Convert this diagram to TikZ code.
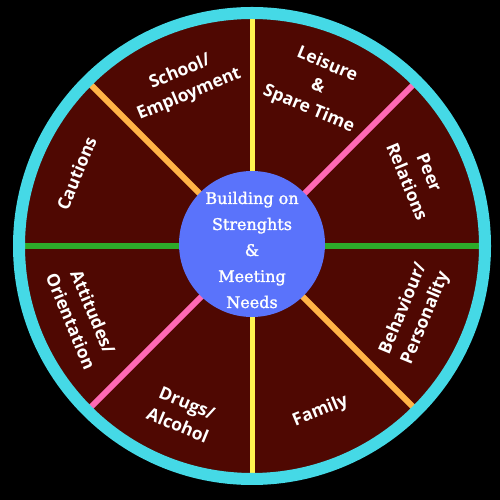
\documentclass[tikz,border=0pt]{standalone}
\usepackage{fontspec}
\setsansfont{Open Sans}
\newfontfamily\hubfont[FakeBold=1.6]{DejaVu Serif}
\usetikzlibrary{calc,positioning}
\definecolor{rim}{HTML}{45D9E6}
\definecolor{wedge}{HTML}{4F0802}
\definecolor{hub}{HTML}{5A73FB}
\definecolor{yellowline}{HTML}{FFF44F}
\definecolor{orangeline}{HTML}{FFB347}
\definecolor{pinkline}{HTML}{FF69B4}
\definecolor{greenline}{HTML}{2DAA2A}

\begin{document}
\begin{tikzpicture}[x=1pt,y=1pt,
  spoke/.style={line width=6pt,#1},
  area/.style={text=white,font=\sffamily\bfseries\fontsize{17.5}{24}\selectfont,align=center,inner sep=0pt},
]
  \fill[black] (0,0) rectangle (500,500);
  \coordinate (c) at (252,254);
  \fill[wedge] (c) circle (233pt);

  % spokes
  \draw[spoke=greenline] (c) ++(180:230) -- ++(0:460);
  \draw[spoke=yellowline,line width=5pt] (c) ++(90:230) -- ++(-90:460);
  \draw[spoke=orangeline] (c) ++(135:230) -- ++(-45:460);
  \draw[spoke=pinkline] (c) ++(45:230) -- ++(-135:460);

  \draw[rim,line width=12pt] (c) circle (233pt);

  \node[circle,fill=hub,minimum size=146pt,inner sep=0pt] (hub) at ($(c)+(0,2)$) {};
  \node[text=white,font=\hubfont\fontsize{16}{26}\selectfont,align=center] (hubtext)
    at ($(hub.center)+(0,-6)$) {Building on\\Strenghts\\\&\\Meeting\\Needs};

  % areas round the wheel
  \node[area,rotate=22.5] (school) at ($(c)+(112.5:176)$) {School/\\Employment};
  \node[area,rotate=-22.5] (leisure) at ($(c)+(67.5:172)$) {Leisure\\\&\\Spare Time};
  \node[area,rotate=-67.5] (peer) at ($(c)+(22.5:180)$) {Peer\\Relations};
  \node[area,rotate=67.5] (behaviour) at ($(c)+(-22.5:176)$) {Behaviour/\\Personality};
  \node[area,rotate=22.5] (family) at ($(c)+(-67.5:179)$) {Family};
  \node[area,rotate=-22.5] (drugs) at ($(c)+(-112.5:182)$) {Drugs/\\Alcohol};
  \node[area,rotate=-67.5] (attitudes) at ($(c)+(-157.5:184)$) {Attitudes/\\Orientation};
  \node[area,rotate=67.5] (cautions) at ($(c)+(157.5:190)$) {Cautions};
\end{tikzpicture}
\end{document}
